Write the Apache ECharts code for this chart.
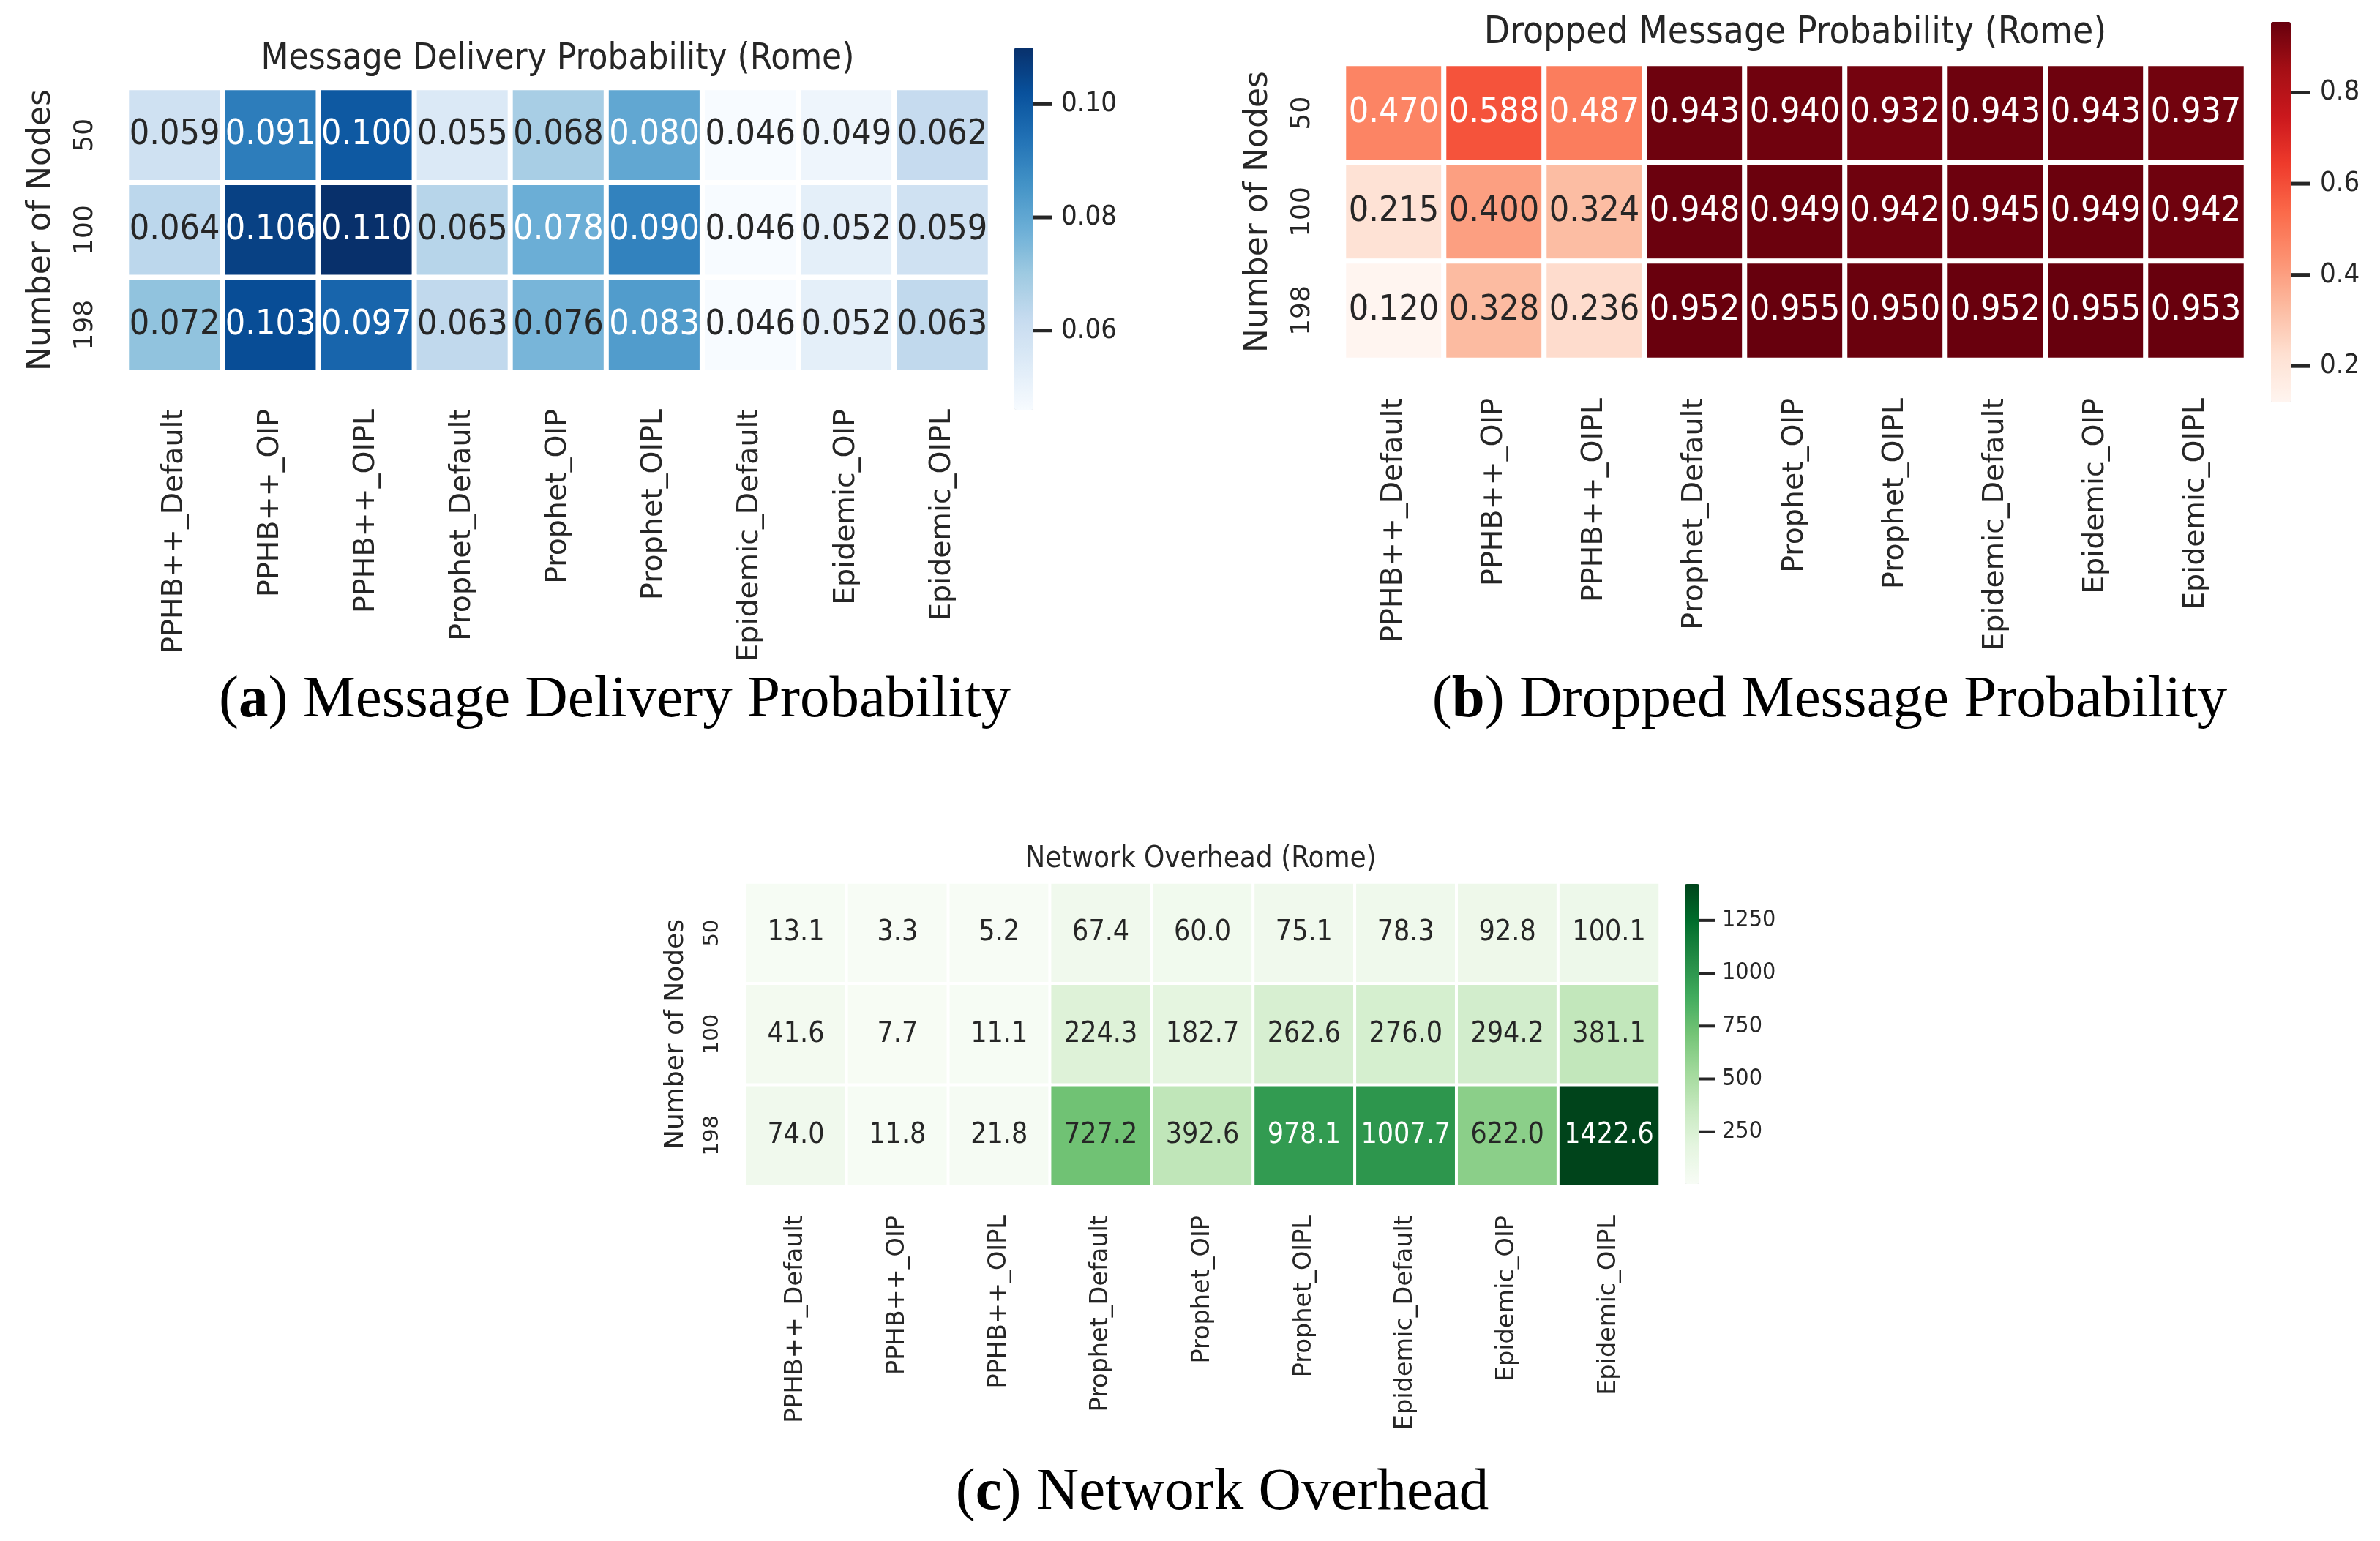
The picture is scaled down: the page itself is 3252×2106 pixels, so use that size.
<!DOCTYPE html>
<html><head><meta charset="utf-8">
<script src="https://cdn.jsdelivr.net/npm/echarts@6/dist/echarts.min.js"></script>
<style>html,body{margin:0;padding:0;background:#fff;} #c{width:3252px;height:2106px;}</style>
</head><body><div id="c"></div>
<script>
// ---------------- data ----------------
const categories = ['PPHB++_Default','PPHB++_OIP','PPHB++_OIPL','Prophet_Default','Prophet_OIP','Prophet_OIPL','Epidemic_Default','Epidemic_OIP','Epidemic_OIPL'];
const nodeCounts = ['50','100','198'];
const deliveryProb = [
  [0.059,0.091,0.100,0.055,0.068,0.080,0.046,0.049,0.062],
  [0.064,0.106,0.110,0.065,0.078,0.090,0.046,0.052,0.059],
  [0.072,0.103,0.097,0.063,0.076,0.083,0.046,0.052,0.063]
];
const droppedProb = [
  [0.470,0.588,0.487,0.943,0.940,0.932,0.943,0.943,0.937],
  [0.215,0.400,0.324,0.948,0.949,0.942,0.945,0.949,0.942],
  [0.120,0.328,0.236,0.952,0.955,0.950,0.952,0.955,0.953]
];
const overhead = [
  [13.1,3.3,5.2,67.4,60.0,75.1,78.3,92.8,100.1],
  [41.6,7.7,11.1,224.3,182.7,262.6,276.0,294.2,381.1],
  [74.0,11.8,21.8,727.2,392.6,978.1,1007.7,622.0,1422.6]
];
const deliveryTicks = [0.06,0.08,0.10];
const droppedTicks = [0.2,0.4,0.6,0.8];
const overheadTicks = [250,500,750,1000,1250];
const titles = ['Message Delivery Probability (Rome)','Dropped Message Probability (Rome)','Network Overhead (Rome)'];

// ---------------- colormaps ----------------
const BLUES = ['#f7fbff','#deebf7','#c6dbef','#9ecae1','#6baed6','#4292c6','#2171b5','#08519c','#08306b'];
const REDS = ['#fff5f0','#fee0d2','#fcbba1','#fc9272','#fb6a4a','#ef3b2c','#cb181d','#a50f15','#67000d'];
const GREENS = ['#f7fcf5','#e5f5e0','#c7e9c0','#a1d99b','#74c476','#41ab5d','#238b45','#006d2c','#00441b'];

function hexToRgb(h){return [parseInt(h.substr(1,2),16),parseInt(h.substr(3,2),16),parseInt(h.substr(5,2),16)];}
function cmap(colors,t){
  t=Math.max(0,Math.min(1,t));
  const p=t*(colors.length-1); const i=Math.min(colors.length-2,Math.floor(p)); const f=p-i;
  const a=hexToRgb(colors[i]), b=hexToRgb(colors[i+1]);
  return [0,1,2].map(k=>a[k]+(b[k]-a[k])*f);
}
function lum(rgb){
  const c=rgb.map(v=>{v/=255;return v<=0.03928?v/12.92:Math.pow((v+0.055)/1.055,2.4);});
  return 0.2126*c[0]+0.7152*c[1]+0.0722*c[2];
}
const TXT='#262626';
const SANS="'DejaVu Sans Condensed','DejaVu Sans',sans-serif";
const SANSN="'DejaVu Sans',sans-serif";

const panels = [
  {data:deliveryProb, colors:BLUES, ticks:deliveryTicks, dec:3, tickDec:2, title:titles[0],
   grid:{left:173,top:120,width:1180,height:389}, cb:{left:1386,top:65,width:26,height:495},
   cellFont:48, xFont:39.5, xMargin:50, yFont:36, yMargin:38, nameFont:44, nameGap:94,
   cbTickLen:25, cbTickW:5, cbFont:38, cbMargin:38, border:7, titlePos:[762,81], titleFont:49},
  {data:droppedProb, colors:REDS, ticks:droppedTicks, dec:3, tickDec:1, title:titles[1],
   grid:{left:1836,top:87,width:1233,height:405}, cb:{left:3103,top:30,width:27,height:520},
   cellFont:48, xFont:39.5, xMargin:52, yFont:36, yMargin:38, nameFont:44, nameGap:94,
   cbTickLen:27, cbTickW:5, cbFont:38, cbMargin:40, border:7, titlePos:[2453,46], titleFont:51},
  {data:overhead, colors:GREENS, ticks:overheadTicks, dec:1, tickDec:0, title:titles[2],
   grid:{left:1018,top:1206,width:1250,height:415}, cb:{left:2302,top:1208,width:20,height:410},
   cellFont:39, xFont:33.5, xMargin:40, yFont:29, yMargin:30, nameFont:36, nameGap:76,
   cbTickLen:21, cbTickW:4, cbFont:32, cbMargin:31, border:4, titlePos:[1641,1175], titleFont:40}
];

const option = {backgroundColor:'#fff', animation:false, grid:[], xAxis:[], yAxis:[], series:[], visualMap:[], graphic:[]};
const tickSeries = [];

panels.forEach((p,i)=>{
  const flat=[].concat(...p.data);
  const mn=Math.min(...flat), mx=Math.max(...flat);
  option.grid.push(Object.assign({containLabel:false}, p.grid));
  option.grid.push(Object.assign({containLabel:false}, p.cb));
  option.xAxis.push({type:'category', gridIndex:2*i, data:categories, position:'bottom',
    axisLine:{show:false}, axisTick:{show:false}, splitLine:{show:false},
    axisLabel:{rotate:90, margin:p.xMargin, fontSize:p.xFont, color:TXT, fontFamily:SANSN, interval:0}});
  option.xAxis.push({type:'value', gridIndex:2*i+1, min:0, max:1, show:false});
  option.yAxis.push({type:'category', gridIndex:2*i, data:nodeCounts, inverse:true,
    axisLine:{show:false}, axisTick:{show:false}, splitLine:{show:false},
    axisLabel:{rotate:90, margin:p.yMargin, fontSize:p.yFont, color:TXT, fontFamily:SANSN},
    name:'Number of Nodes', nameLocation:'middle', nameRotate:90, nameGap:p.nameGap,
    nameTextStyle:{fontSize:p.nameFont, color:TXT, fontFamily:SANSN}});
  option.yAxis.push({type:'value', gridIndex:2*i+1, position:'right', min:mn, max:mx,
    axisLine:{show:false}, splitLine:{show:false}, axisTick:{show:false},
    axisLabel:{show:true, customValues:p.ticks, margin:p.cbMargin, fontSize:p.cbFont, color:TXT, fontFamily:SANS,
      formatter:v=>Number(v).toFixed(p.tickDec)}});
  const data=[];
  p.data.forEach((row,r)=>row.forEach((v,c)=>{
    const col=lum(cmap(p.colors,(v-mn)/(mx-mn)))>0.408?TXT:'#ffffff';
    data.push({value:[c,r,v], label:{color:col}});
  }));
  option.series.push({type:'heatmap', xAxisIndex:2*i, yAxisIndex:2*i, data:data,
    label:{show:true, fontSize:p.cellFont, fontFamily:SANS, formatter:q=>q.value[2].toFixed(p.dec)},
    itemStyle:{borderColor:'#ffffff', borderWidth:p.border}, emphasis:{disabled:true}});
  // colorbar tick marks, positioned through the colorbar's value axis
  tickSeries.push({type:'scatter', xAxisIndex:2*i+1, yAxisIndex:2*i+1, silent:true, clip:false, z:10,
    data:p.ticks.map(t=>[1,t]), symbol:'rect', symbolSize:[p.cbTickLen,p.cbTickW], symbolOffset:[p.cbTickLen/2,0],
    itemStyle:{color:TXT, opacity:1}, emphasis:{disabled:true}});
  option.visualMap.push({type:'continuous', seriesIndex:i, min:mn, max:mx, calculable:false, show:true,
    left:p.cb.left, top:p.cb.top, itemWidth:p.cb.width, itemHeight:p.cb.height, padding:0, text:null,
    showLabel:false, hoverLink:false, inRange:{color:p.colors}});
  option.graphic.push({type:'text', x:p.titlePos[0], y:p.titlePos[1], silent:true,
    style:{text:p.title, font:p.titleFont+'px '+SANS, fill:TXT, textAlign:'center', textVerticalAlign:'middle'}});
});
option.series = option.series.concat(tickSeries);

const captions = [
  {letter:'a', text:' Message Delivery Probability', x:840, y:958},
  {letter:'b', text:' Dropped Message Probability', x:2500, y:958},
  {letter:'c', text:' Network Overhead', x:1670, y:2041}
];
captions.forEach(c=>{
  option.graphic.push({type:'text', x:c.x, y:c.y, silent:true,
    style:{text:'({b|'+c.letter+'})'+c.text, font:"81px 'Liberation Serif',serif", fill:'#000',
      textAlign:'center', textVerticalAlign:'middle',
      rich:{b:{fontWeight:'bold', fontSize:81, fontFamily:"'Liberation Serif',serif", fill:'#000'}}}});
});

const chart = echarts.init(document.getElementById('c'));
chart.setOption(option);
</script></body></html>
